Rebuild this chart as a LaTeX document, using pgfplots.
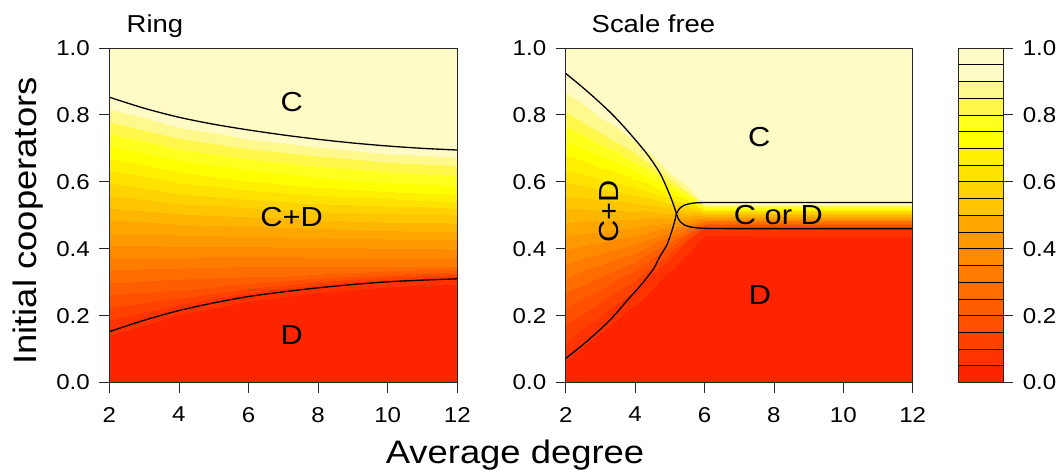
\documentclass[border=0pt]{standalone}
\usepackage{fontspec}
\setmainfont[FakeStretch=1.12]{Liberation Sans}
\usepackage{pgfplots}
\usepackage{pgfplotstable}
\pgfplotsset{compat=1.18}

% Heat palette, 20 classes of width 0.05 (the last entry repeats the top class)
\pgfplotsset{
  colormap={heat}{
    rgb255=(255,36,0)  rgb255=(255,51,0)  rgb255=(255,65,0)  rgb255=(255,80,0)
    rgb255=(255,94,0)  rgb255=(255,109,0) rgb255=(255,124,0) rgb255=(255,138,0)
    rgb255=(255,153,0) rgb255=(255,167,0) rgb255=(255,182,0) rgb255=(255,197,0)
    rgb255=(255,211,0) rgb255=(255,226,0) rgb255=(255,240,0) rgb255=(255,255,0)
    rgb255=(255,255,30) rgb255=(255,248,74) rgb255=(255,248,140) rgb255=(255,251,198)
    rgb255=(255,251,198)
  },
}

% Final fraction of cooperators f on a ring; one mesh row per level, x = average degree
\pgfplotstableread[row sep=\\]{
x y f \\
2 0 0 \\ 4 0 0 \\ 6 0 0 \\ 8 0 0 \\ 10 0 0 \\ 12 0 0 \\
2 0.152 0.05 \\ 4 0.215 0.05 \\ 6 0.257 0.05 \\ 8 0.283 0.05 \\ 10 0.301 0.05 \\ 12 0.310 0.05 \\
2 0.187 0.095 \\ 4 0.244 0.125 \\ 6 0.282 0.149 \\ 8 0.305 0.169 \\ 10 0.321 0.184 \\ 12 0.329 0.194 \\
2 0.222 0.140 \\ 4 0.273 0.186 \\ 6 0.307 0.224 \\ 8 0.327 0.254 \\ 10 0.342 0.277 \\ 12 0.349 0.292 \\
2 0.292 0.230 \\ 4 0.331 0.269 \\ 6 0.357 0.302 \\ 8 0.372 0.329 \\ 10 0.382 0.348 \\ 12 0.387 0.361 \\
2 0.362 0.320 \\ 4 0.388 0.353 \\ 6 0.406 0.380 \\ 8 0.416 0.402 \\ 10 0.423 0.418 \\ 12 0.426 0.429 \\
2 0.432 0.410 \\ 4 0.446 0.437 \\ 6 0.456 0.460 \\ 8 0.461 0.478 \\ 10 0.463 0.492 \\ 12 0.464 0.501 \\
2 0.503 0.500 \\ 4 0.504 0.523 \\ 6 0.506 0.543 \\ 8 0.505 0.559 \\ 10 0.504 0.570 \\ 12 0.503 0.578 \\
2 0.573 0.590 \\ 4 0.562 0.613 \\ 6 0.556 0.632 \\ 8 0.549 0.647 \\ 10 0.545 0.658 \\ 12 0.541 0.666 \\
2 0.643 0.680 \\ 4 0.620 0.702 \\ 6 0.606 0.720 \\ 8 0.594 0.734 \\ 10 0.585 0.745 \\ 12 0.580 0.752 \\
2 0.713 0.770 \\ 4 0.677 0.781 \\ 6 0.655 0.791 \\ 8 0.638 0.798 \\ 10 0.626 0.804 \\ 12 0.618 0.808 \\
2 0.783 0.860 \\ 4 0.735 0.863 \\ 6 0.705 0.865 \\ 8 0.683 0.867 \\ 10 0.666 0.869 \\ 12 0.657 0.870 \\
2 0.853 0.95 \\ 4 0.793 0.95 \\ 6 0.755 0.95 \\ 8 0.727 0.95 \\ 10 0.707 0.95 \\ 12 0.695 0.95 \\
2 1 1 \\ 4 1 1 \\ 6 1 1 \\ 8 1 1 \\ 10 1 1 \\ 12 1 1 \\
}\ringdata

% Final fraction of cooperators f on a scale-free network
\pgfplotstableread[row sep=\\]{
x y f \\
2 0 0 \\ 3 0 0 \\ 4 0 0 \\ 5 0 0 \\ 6 0 0 \\ 8 0 0 \\ 10 0 0 \\ 12 0 0 \\
2 0.070 0.05 \\ 3 0.157 0.05 \\ 4 0.243 0.05 \\ 5 0.352 0.05 \\ 6 0.461 0.05 \\ 8 0.460 0.05 \\ 10 0.460 0.05 \\ 12 0.460 0.05 \\
2 0.180 0.15 \\ 3 0.244 0.15 \\ 4 0.308 0.15 \\ 5 0.389 0.15 \\ 6 0.469 0.15 \\ 8 0.469 0.15 \\ 10 0.469 0.15 \\ 12 0.469 0.15 \\
2 0.280 0.25 \\ 3 0.324 0.25 \\ 4 0.367 0.25 \\ 5 0.423 0.25 \\ 6 0.478 0.25 \\ 8 0.478 0.25 \\ 10 0.478 0.25 \\ 12 0.478 0.25 \\
2 0.370 0.35 \\ 3 0.396 0.35 \\ 4 0.421 0.35 \\ 5 0.454 0.35 \\ 6 0.486 0.35 \\ 8 0.486 0.35 \\ 10 0.486 0.35 \\ 12 0.486 0.35 \\
2 0.455 0.45 \\ 3 0.464 0.45 \\ 4 0.473 0.45 \\ 5 0.484 0.45 \\ 6 0.495 0.45 \\ 8 0.495 0.45 \\ 10 0.495 0.45 \\ 12 0.495 0.45 \\
2 0.540 0.55 \\ 3 0.532 0.55 \\ 4 0.524 0.55 \\ 5 0.514 0.55 \\ 6 0.503 0.55 \\ 8 0.503 0.55 \\ 10 0.503 0.55 \\ 12 0.503 0.55 \\
2 0.620 0.65 \\ 3 0.597 0.65 \\ 4 0.573 0.65 \\ 5 0.543 0.65 \\ 6 0.512 0.65 \\ 8 0.512 0.65 \\ 10 0.512 0.65 \\ 12 0.512 0.65 \\
2 0.710 0.75 \\ 3 0.669 0.75 \\ 4 0.627 0.75 \\ 5 0.574 0.75 \\ 6 0.520 0.75 \\ 8 0.520 0.75 \\ 10 0.520 0.75 \\ 12 0.520 0.75 \\
2 0.800 0.85 \\ 3 0.741 0.85 \\ 4 0.681 0.85 \\ 5 0.605 0.85 \\ 6 0.529 0.85 \\ 8 0.529 0.85 \\ 10 0.529 0.85 \\ 12 0.529 0.85 \\
2 0.920 0.95 \\ 3 0.836 0.95 \\ 4 0.752 0.95 \\ 5 0.645 0.95 \\ 6 0.538 0.95 \\ 8 0.538 0.95 \\ 10 0.538 0.95 \\ 12 0.538 0.95 \\
2 1 1 \\ 3 1 1 \\ 4 1 1 \\ 5 1 1 \\ 6 1 1 \\ 8 1 1 \\ 10 1 1 \\ 12 1 1 \\
}\sfdata

% Colour key: class boundaries 0, 0.05, ..., 1
\pgfplotstableread[row sep=\\]{
x y f \\
0 0 0 \\ 1 0 0 \\ 0 0.05 0.05 \\ 1 0.05 0.05 \\ 0 0.10 0.10 \\ 1 0.10 0.10 \\
0 0.15 0.15 \\ 1 0.15 0.15 \\ 0 0.20 0.20 \\ 1 0.20 0.20 \\ 0 0.25 0.25 \\ 1 0.25 0.25 \\
0 0.30 0.30 \\ 1 0.30 0.30 \\ 0 0.35 0.35 \\ 1 0.35 0.35 \\ 0 0.40 0.40 \\ 1 0.40 0.40 \\
0 0.45 0.45 \\ 1 0.45 0.45 \\ 0 0.50 0.50 \\ 1 0.50 0.50 \\ 0 0.55 0.55 \\ 1 0.55 0.55 \\
0 0.60 0.60 \\ 1 0.60 0.60 \\ 0 0.65 0.65 \\ 1 0.65 0.65 \\ 0 0.70 0.70 \\ 1 0.70 0.70 \\
0 0.75 0.75 \\ 1 0.75 0.75 \\ 0 0.80 0.80 \\ 1 0.80 0.80 \\ 0 0.85 0.85 \\ 1 0.85 0.85 \\
0 0.90 0.90 \\ 1 0.90 0.90 \\ 0 0.95 0.95 \\ 1 0.95 0.95 \\ 0 1 1 \\ 1 1 1 \\
}\keydata

\pgfplotsset{
  common/.style={
    scale only axis, height=334.5pt, anchor=south west,
    ymin=0, ymax=1, ytick={0,0.2,0.4,0.6,0.8,1},
    tick align=outside, major tick length=10pt,
    tick style={black!85, line width=0.8pt},
    axis line style={black!85, line width=0.9pt},
    tick label style={font=\fontsize{21.5}{24}\selectfont},
    /pgf/number format/assume math mode=true,
    colormap name=heat, colormap access=piecewise constant,
    point meta min=0, point meta max=1,
    axis on top,
  },
  panel/.style={
    common, width=348pt,
    xmin=2, xmax=12, xtick={2,4,6,8,10,12},
    xtick pos=left, ytick pos=left,
    xticklabel style={yshift=-11pt},
    yticklabel style={xshift=-6pt, /pgf/number format/.cd, fixed, fixed zerofill, precision=1},
  },
  boundary/.style={black, line width=1.3pt, smooth, no markers},
}
\tikzset{region/.style={font=\fontsize{27.5}{27.5}\selectfont, inner sep=0pt}}

\begin{document}
\begin{tikzpicture}[x=1pt, y=1pt]
\useasboundingbox (0,0) rectangle (1063,472);

% Ring lattice
\begin{axis}[panel, at={(109.3pt,89.5pt)}]
  \addplot[surf, shader=interp, mesh/cols=6, mesh/rows=14, point meta=explicit]
    table[x=x, y=y, meta=f] {\ringdata};
  \addplot[boundary] coordinates {(2,0.853) (3,0.820) (4,0.793) (5,0.772) (6,0.755) (7,0.740)
    (8,0.727) (9,0.716) (10,0.707) (11,0.700) (12,0.695)};
  \addplot[boundary] coordinates {(2,0.152) (3,0.186) (4,0.215) (5,0.238) (6,0.257) (7,0.271)
    (8,0.283) (9,0.293) (10,0.301) (11,0.306) (12,0.310)};
  \node[region] at (axis cs:7.24,0.839) {C};
  \node[region] at (axis cs:7.24,0.496) {C+D};
  \node[region] at (axis cs:7.24,0.142) {D};
\end{axis}

% Scale-free network
\begin{axis}[panel, width=347pt, at={(565.7pt,89.5pt)}]
  \addplot[surf, shader=interp, mesh/cols=8, mesh/rows=12, point meta=explicit]
    table[x=x, y=y, meta=f] {\sfdata};
  \addplot[boundary] coordinates {(2.0,0.924) (2.4,0.890) (2.8,0.854) (3.3,0.806) (3.76,0.755)
    (4.33,0.685) (4.72,0.625) (5.01,0.558) (5.15,0.518) (5.19,0.505)};
  \addplot[boundary] coordinates {(2.0,0.072) (2.6,0.122) (3.28,0.187) (3.8,0.249) (4.14,0.288)
    (4.52,0.338) (4.72,0.378) (4.91,0.410) (5.05,0.450) (5.14,0.482) (5.19,0.505)};
  \addplot[boundary] coordinates {(5.19,0.505) (5.28,0.520) (5.42,0.530) (5.65,0.536) (6.0,0.538)
    (7,0.538) (12,0.538)};
  \addplot[boundary] coordinates {(5.19,0.505) (5.27,0.485) (5.42,0.471) (5.65,0.464) (6.0,0.461)
    (7,0.460) (12,0.460)};
  \node[region] at (axis cs:7.58,0.735) {C};
  \node[region] at (axis cs:8.13,0.501) {C or D};
  \node[region] at (axis cs:7.60,0.262) {D};
  \node[region, rotate=90] at (axis cs:3.26,0.511) {C+D};
\end{axis}

% Colour key
\begin{axis}[common, width=45pt, at={(958.3pt,89.5pt)},
  xmin=0, xmax=1, xtick=\empty,
  ytick pos=right, yticklabel pos=right,
  yticklabel style={xshift=6pt, /pgf/number format/.cd, fixed, fixed zerofill, precision=1}]
  \addplot[surf, shader=faceted, faceted color=black, line width=0.7pt,
    mesh/cols=2, mesh/rows=21, point meta=explicit]
    table[x=x, y=y, meta=f] {\keydata};
\end{axis}

% Titles and axis labels
\node[anchor=base west, inner sep=0pt, font=\fontsize{24.5}{25}\selectfont] at (126.5,439.3) {Ring};
\node[anchor=base west, inner sep=0pt, font=\fontsize{24.5}{25}\selectfont] at (591.5,439.3) {Scale free};
\node[anchor=base, inner sep=0pt, font=\fontsize{32.5}{33}\selectfont] at (515,8.6) {Average degree};
\node[anchor=base, inner sep=0pt, rotate=90, font=\fontsize{32.5}{33}\selectfont] at (36,251) {Initial cooperators};
\end{tikzpicture}
\end{document}
